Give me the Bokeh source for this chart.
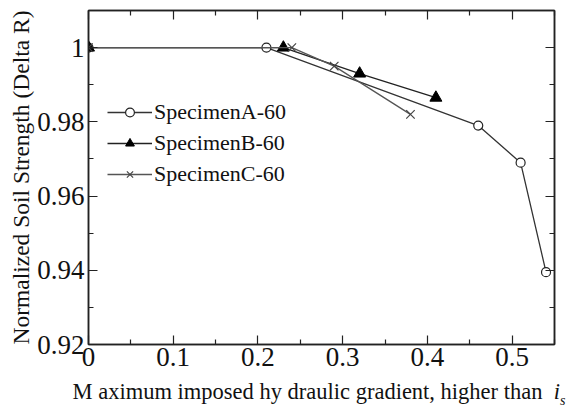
from bokeh.plotting import figure
from bokeh.models import LinearAxis, Range1d, FixedTicker, Legend, LegendItem, Div
from bokeh.layouts import column
from bokeh.embed import file_html
from bokeh.resources import INLINE

# Data
a_x = [0.0, 0.21, 0.46, 0.51, 0.54]
a_y = [1.0, 1.0, 0.979, 0.969, 0.9395]
b_x = [0.0, 0.23, 0.32, 0.41]
b_y = [1.0, 1.0, 0.993, 0.9865]
c_x = [0.0, 0.24, 0.29, 0.38]
c_y = [1.0, 1.0, 0.995, 0.982]
x_ticks = [0, 0.1, 0.2, 0.3, 0.4, 0.5]
y_ticks = [0.92, 0.94, 0.96, 0.98, 1.0]
y_tick_labels = {0.92: "0.92", 0.94: "0.94", 0.96: "0.96", 0.98: "0.98", 1.0: "1"}
x_minor = [0.05, 0.15, 0.25, 0.35, 0.45, 0.55]
y_minor = [0.93, 0.95, 0.97, 0.99, 1.01]

FONT = "Liberation Serif"

p = figure(width=572, height=374, output_backend="svg", toolbar_location=None,
           x_range=Range1d(0, 0.55), y_range=Range1d(0.92, 1.01),
           min_border_left=88, min_border_right=18, min_border_top=10, min_border_bottom=30)
p.grid.visible = False
p.outline_line_color = "#222222"
p.outline_line_width = 1.5

def style_axis(ax, ticks, minor, show_labels=True):
    ax.ticker = FixedTicker(ticks=ticks, minor_ticks=minor)
    ax.major_tick_in = 9
    ax.major_tick_out = 0
    ax.minor_tick_in = 5
    ax.minor_tick_out = 0
    ax.axis_line_color = "#222222"
    ax.axis_line_width = 1.5
    ax.major_tick_line_color = "#222222"
    ax.minor_tick_line_color = "#222222"
    ax.major_tick_line_width = 1.2
    ax.minor_tick_line_width = 1.2
    ax.major_label_text_font = FONT
    ax.major_label_text_font_size = "27px"
    ax.major_label_text_color = "#111111" if show_labels else None
    ax.axis_label_text_font = FONT
    ax.axis_label_text_font_style = "normal"
    ax.axis_label_text_font_size = "23.5px"
    ax.axis_label_text_color = "#111111"

style_axis(p.xaxis[0], x_ticks, x_minor)
style_axis(p.yaxis[0], y_ticks, y_minor)
p.xaxis[0].major_label_standoff = 3
p.yaxis[0].major_label_standoff = 4
p.yaxis[0].major_label_overrides = y_tick_labels
p.xaxis[0].major_label_overrides = {0: "0"}
p.yaxis[0].axis_label = "Normalized Soil Strength (Delta R)"
p.yaxis[0].axis_label_standoff = 0

top = LinearAxis()
style_axis(top, x_ticks, x_minor, show_labels=False)
p.add_layout(top, "above")
right = LinearAxis()
style_axis(right, y_ticks, y_minor, show_labels=False)
p.add_layout(right, "right")

la = p.line(a_x, a_y, line_color="#333333", line_width=1.3)
sa = p.scatter(a_x, a_y, marker="circle", size=9, fill_color="white", line_color="#222222", line_width=1.2)
lb = p.line(b_x, b_y, line_color="#222222", line_width=1.3)
sb = p.scatter(b_x, b_y, marker="triangle", size=12, fill_color="black", line_color="black")
lc = p.line(c_x, c_y, line_color="#555555", line_width=1.3)
sc = p.scatter(c_x, c_y, marker="x", size=12, line_color="#444444", line_width=1.2)

legend = Legend(items=[
    LegendItem(label="SpecimenA-60", renderers=[la, sa]),
    LegendItem(label="SpecimenB-60", renderers=[lb, sb]),
    LegendItem(label="SpecimenC-60", renderers=[lc, sc]),
], location=(19, 157))
legend.background_fill_alpha = 0
legend.border_line_color = None
legend.label_text_font = FONT
legend.label_text_font_size = "22px"
legend.label_text_color = "#111111"
legend.glyph_width = 45
legend.glyph_height = 22
legend.label_height = 22
legend.spacing = 5
legend.padding = 0
legend.margin = 0
legend.label_standoff = 2
p.add_layout(legend)

xlabel = Div(
    text='M aximum imposed hy draulic gradient, higher than&nbsp; <i>i<sub style="font-size:14px">s</sub></i>',
    width=572, height=33, margin=(0, 0, 0, 0),
    styles={"font-family": "'Liberation Serif', serif", "font-size": "22.5px", "color": "#111111",
            "text-align": "center", "width": "100%", "padding-left": "66px", "padding-top": "5px",
            "line-height": "26px", "white-space": "nowrap"})

layout = column(p, xlabel, spacing=0, margin=(0, 0, 0, 0))
open("out.html", "w").write(file_html(layout, INLINE))
